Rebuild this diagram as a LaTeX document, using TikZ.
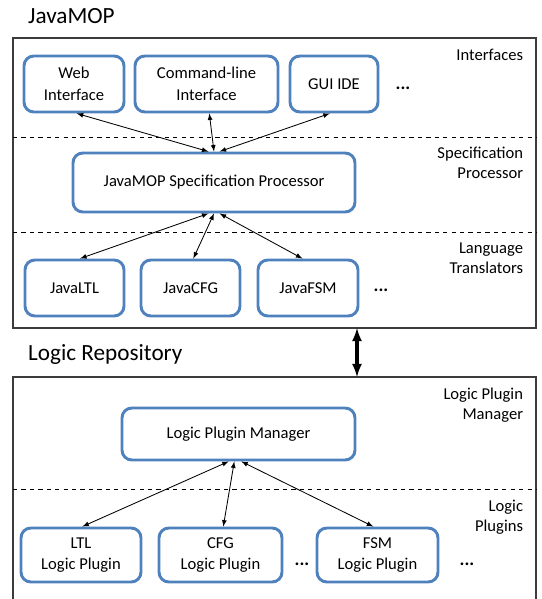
\documentclass[tikz,border=0pt]{standalone}
\usepackage{fontspec}
\setmainfont{Carlito}
\usepackage{tikz}
\usetikzlibrary{arrows,positioning,calc,shapes}
\tikzset{>=latex}
\definecolor{boxblue}{RGB}{79,129,189}
\definecolor{framegray}{RGB}{60,60,60}
\tikzset{
  blk/.style={draw=boxblue, line width=2.1pt, rounded corners=7pt, fill=white,
    align=center, inner sep=2pt, font=\fontsize{11.8}{15.5}\selectfont},
  layer/.style={anchor=east, align=right, font=\fontsize{11.8}{14.5}\selectfont},
  title/.style={anchor=west, font=\fontsize{16.5}{20}\selectfont},
  dots/.style={font=\fontsize{13}{14}\selectfont\bfseries}
}

\begin{document}
\begin{tikzpicture}
\useasboundingbox (0,0) rectangle (13.55,-14.975);
% frames
\draw[framegray, line width=0.9pt] (0.325,-0.95) rectangle (13.4,-8.2);
\draw[framegray, line width=0.9pt] (0.325,-9.425) rectangle (13.4,-15.3);
\draw[dashed, line width=0.6pt] (0.325,-3.425) -- (13.4,-3.425);
\draw[dashed, line width=0.6pt] (0.325,-5.8) -- (13.4,-5.8);
\draw[dashed, line width=0.6pt] (0.325,-12.225) -- (13.4,-12.225);
\node[title] (javamop) at (0.58,-0.4) {JavaMOP};
\node[title] (logicrepo) at (0.58,-8.875) {Logic Repository};
% layer names
\node[layer] (linterf) at (13.2,-1.375) {Interfaces};
\node[layer] (lspec) at (13.2,-4.075) {Specification\\Processor};
\node[layer] (ltrans) at (13.2,-6.45) {Language\\Translators};
\node[layer] (lmanager) at (13.2,-10.125) {Logic Plugin\\Manager};
\node[layer] (lplugins) at (13.2,-12.925) {Logic\\Plugins};
% JavaMOP
\node[blk, minimum width=2.5cm, minimum height=1.4cm] (web) at (1.85,-2.1) {Web\\Interface};
\node[blk, minimum width=3.575cm, minimum height=1.4cm] (cmd) at (5.1625,-2.1) {Command-line\\Interface};
\node[blk, minimum width=2.2cm, minimum height=1.4cm] (gui) at (8.35,-2.1) {GUI IDE};
\node[dots] (dotsa) at (10.075,-2.2) {...};
\node[blk, minimum width=7.05cm, minimum height=1.475cm] (spec) at (5.35,-4.5625) {JavaMOP Specification Processor};
\node[blk, minimum width=2.475cm, minimum height=1.4cm] (javaltl) at (1.8625,-7.2) {JavaLTL};
\node[blk, minimum width=2.475cm, minimum height=1.4cm] (javacfg) at (4.7625,-7.2) {JavaCFG};
\node[blk, minimum width=2.5cm, minimum height=1.4cm] (javafsm) at (7.7,-7.2) {JavaFSM};
\node[dots] (dotsb) at (9.525,-7.25) {...};
% Logic Repository
\node[blk, minimum width=5.825cm, minimum height=1.3cm] (manager) at (5.9625,-10.85) {Logic Plugin Manager};
\node[blk, minimum width=3.0cm, minimum height=1.35cm] (ltl) at (2.025,-13.875) {LTL\\Logic Plugin};
\node[blk, minimum width=3.075cm, minimum height=1.35cm] (cfg) at (5.5125,-13.875) {CFG\\Logic Plugin};
\node[dots] (dotsc) at (7.55,-14.1) {...};
\node[blk, minimum width=3.025cm, minimum height=1.35cm] (fsm) at (9.4375,-13.875) {FSM\\Logic Plugin};
\node[dots] (dotsd) at (11.675,-14.1) {...};
\coordinate (upper) at (8.925,-8.2);
\coordinate (lower) at (8.925,-9.425);
\begin{scope}[line width = 0.6pt]
\draw[<->] ([xshift=2pt]web.south) to ([xshift=-4pt]spec.north);
\draw[<->] ([xshift=2pt]cmd.south) to (spec.north);
\draw[<->] ([xshift=-3pt]gui.south) to ([xshift=4pt]spec.north);
\draw[<->] ([xshift=-4pt]spec.south) to ([xshift=4pt]javaltl.north);
\draw[<->] (spec.south) to ([xshift=2pt]javacfg.north);
\draw[<->] ([xshift=4pt]spec.south) to ([xshift=-4pt]javafsm.north);
\draw[<->] ([xshift=-7pt]manager.south) to ([xshift=1pt]ltl.north);
\draw[<->] ([xshift=-3pt]manager.south) to ([xshift=2pt]cfg.north);
\draw[<->] ([xshift=2pt]manager.south) to ([xshift=-3pt]fsm.north);
\end{scope}
\draw[<->, line width=2.2pt] (upper) to (lower);
\end{tikzpicture}
\end{document}
